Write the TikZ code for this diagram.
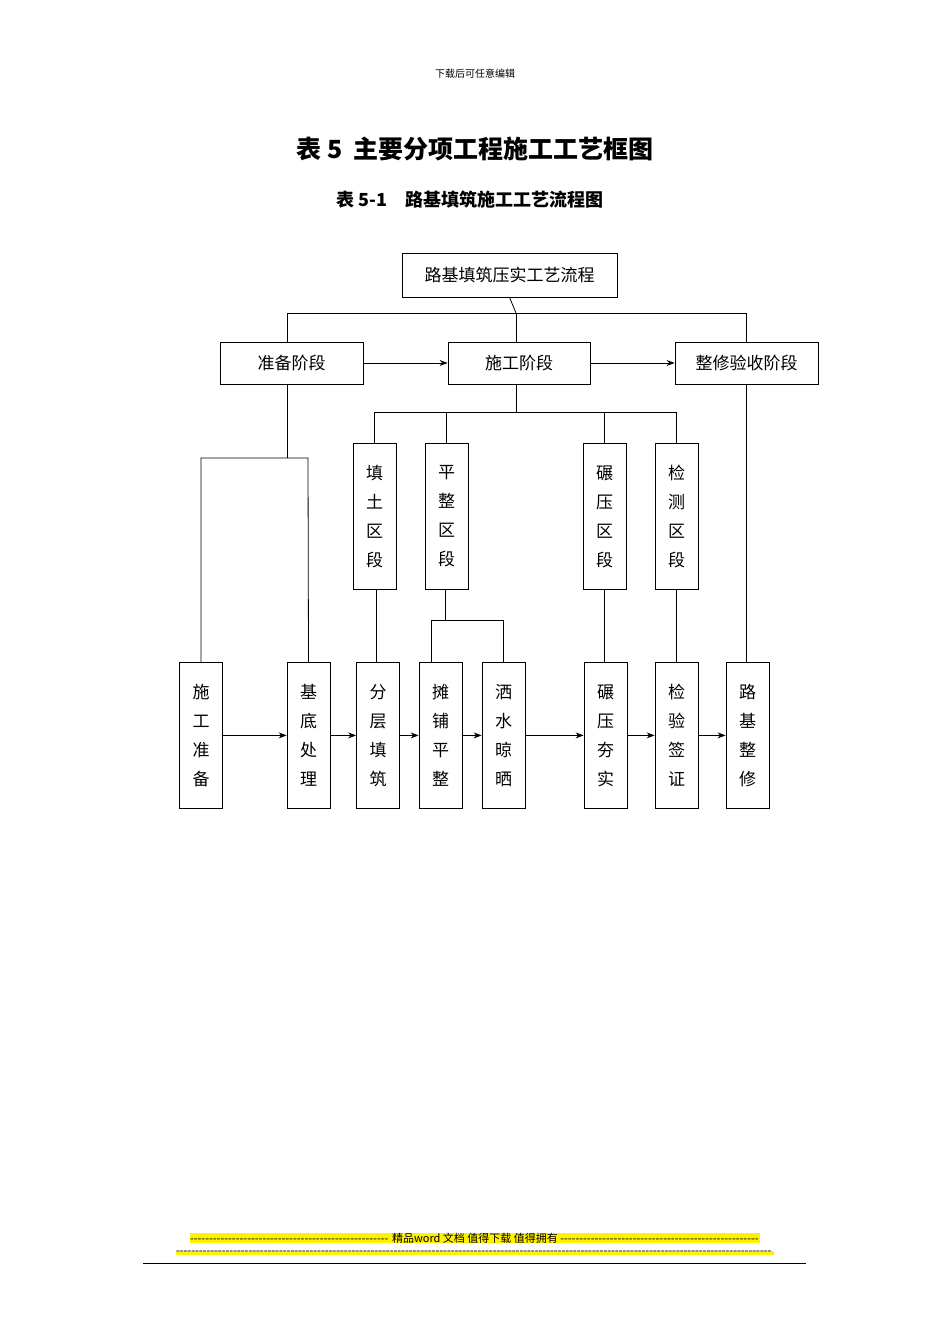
\documentclass[tikz,border=0pt]{standalone}
\usepackage{fontspec}
\setmainfont{Liberation Serif}
\newfontfamily\cjk{Noto Sans CJK SC}
\usetikzlibrary{arrows.meta}
\begin{document}
\begin{tikzpicture}[x=1pt,y=-1pt,
  bx/.style={draw,thick,inner sep=0pt,font=\cjk\fontsize{17}{17}\selectfont},
  vb/.style={bx,align=center,font=\cjk\fontsize{17}{29}\selectfont},
  ln/.style={thick},
  ar/.style={thick,-{Stealth[length=8pt,width=6pt]}}]
\useasboundingbox (0,0) rectangle (950,1344);
\node[font=\cjk\fontsize{10}{10}\selectfont] (hd) at (475,74) {下载后可任意编辑};
\node[font=\cjk\bfseries\fontsize{25}{25}\selectfont] (t1) at (475,149) {表 5\ \ 主要分项工程施工工艺框图};
\node[font=\cjk\bfseries\fontsize{18}{18}\selectfont] (t2) at (470,200) {表 5-1\quad 路基填筑施工工艺流程图};
% top
\node[bx,minimum width=215pt,minimum height=44pt] (top) at (509.5,275) {路基填筑压实工艺流程};
\node[bx,minimum width=143pt,minimum height=42pt] (zb) at (291.5,363) {准备阶段};
\node[bx,minimum width=142pt,minimum height=42pt] (sg) at (519,363) {施工阶段};
\node[bx,minimum width=143pt,minimum height=42pt] (zx) at (746.5,363) {整修验收阶段};
% vertical section boxes
\foreach \n/\x/\t in {tt/374.5/{填\\土\\区\\段},pz/446.5/{平\\整\\区\\段},ny/604.5/{碾\\压\\区\\段},jc/676.5/{检\\测\\区\\段}}
  \node[vb,minimum width=43pt,minimum height=146pt,anchor=north] (\n) at (\x,443) {\t};
% bottom boxes
\foreach \n/\x/\t in {b1/201/{施\\工\\准\\备},b2/308.5/{基\\底\\处\\理},b3/378/{分\\层\\填\\筑},b4/440.5/{摊\\铺\\平\\整},b5/503.5/{洒\\水\\晾\\晒},b6/605.5/{碾\\压\\夯\\实},b7/676.5/{检\\验\\签\\证},b8/747.5/{路\\基\\整\\修}}
  \node[vb,minimum width=43pt,minimum height=146pt,anchor=north] (\n) at (\x,662) {\t};
% connectors
\draw[ln] (top.south) -- (516,313);
\draw[ln] (287,342) -- (287,313) -- (746,313) -- (746,342);
\draw[ln] (516,313) -- (516,342);
\draw[ar] (zb.east) -- (sg.west);
\draw[ar] (sg.east) -- (zx.west);
\draw[ln] (516,384) -- (516,412);
\draw[ln] (374,443) -- (374,412) -- (676,412) -- (676,443);
\draw[ln] (446,412) -- (446,443);
\draw[ln] (604,412) -- (604,443);
\draw[ln] (287,384) -- (287,458);
\draw[ln] (b1.north) -- (201,458) -- (308,458) -- (b2.north);
\draw[ln] (376,589) -- (376,662);
\draw[ln] (445,589) -- (445,620);
\draw[ln] (431,662) -- (431,620) -- (503,620) -- (503,662);
\draw[ln] (604,589) -- (604,662);
\draw[ln] (676,589) -- (676,662);
\draw[ln] (746,384) -- (746,662);
\foreach \a/\b in {b1/b2,b2/b3,b3/b4,b4/b5,b5/b6,b6/b7,b7/b8}
  \draw[ar] (\a.east) -- (\b.west);
% footer
\node[fill=yellow,inner sep=0pt,font=\cjk\fontsize{11}{11}\selectfont] (f1) at (475,1238)
  {\hbox to 570pt{\leaders\hbox{-}\hfill 精品word 文档 值得下载 值得拥有\leaders\hbox{-}\hfill}};
\node[fill=yellow,inner sep=0pt,font=\cjk\fontsize{11}{11}\selectfont] (f2) at (475,1253)
  {\hbox to 598pt{\leaders\hbox{-}\hfill}};
\draw (143,1263) -- (806,1263);
\end{tikzpicture}
\end{document}
